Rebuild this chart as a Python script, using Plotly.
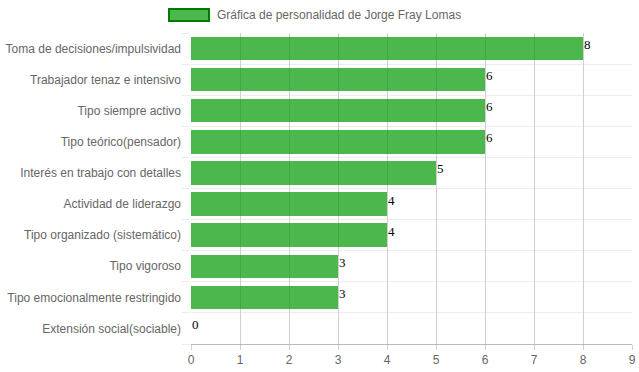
import plotly.graph_objects as go

categories = [
    "Toma de decisiones/impulsividad",
    "Trabajador tenaz e intensivo",
    "Tipo siempre activo",
    "Tipo teórico(pensador)",
    "Interés en trabajo con detalles",
    "Actividad de liderazgo",
    "Tipo organizado (sistemático)",
    "Tipo vigoroso",
    "Tipo emocionalmente restringido",
    "Extensión social(sociable)",
]
values = [8, 6, 6, 6, 5, 4, 4, 3, 3, 0]
series_name = "Gráfica de personalidad de Jorge Fray Lomas"
x_ticks = list(range(0, 10))

positions = list(range(len(categories)))

fig = go.Figure()
fig.add_trace(go.Bar(
    x=values, y=positions, orientation="h",
    marker=dict(color="rgba(0,153,0,0.7)", line=dict(width=0)),
    width=0.75, name=series_name, showlegend=False, hoverinfo="x+y",
))

for v, p in zip(values, positions):
    fig.add_annotation(x=v, y=p, text=str(v), showarrow=False,
                       xanchor="left", yanchor="middle", xshift=-1, yshift=4,
                       font=dict(family="Liberation Serif, Times New Roman, serif", size=13, color="#000"))

# custom legend
fig.add_shape(type="rect", xref="paper", yref="paper",
              x0=(169 - 191) / 441, x1=(209 - 191) / 441,
              y0=(344 - 21) / 311, y1=(344 - 9) / 311,
              fillcolor="rgba(0,153,0,0.7)", line=dict(color="#007a00", width=2))
fig.add_annotation(xref="paper", yref="paper", x=(215 - 191) / 441, y=(344 - 14.5) / 311,
                   text=series_name, showarrow=False, xanchor="left", yanchor="middle",
                   font=dict(family="Liberation Sans", size=12, color="#666"))

fig.update_layout(
    width=639, height=372,
    margin=dict(l=191, r=7, t=33, b=28, autoexpand=False),
    plot_bgcolor="white", paper_bgcolor="white",
    font=dict(family="Liberation Sans", size=12, color="#666"),
    bargap=0,
    xaxis=dict(range=[0, 9], tickvals=x_ticks, showgrid=True, gridcolor="#cfcfcf", gridwidth=1,
               zeroline=False, showline=True, linecolor="#bbb", linewidth=1,
               ticks="outside", ticklen=5, tickcolor="#cfcfcf", automargin=False,
               tickfont=dict(size=12, color="#666"), fixedrange=True),
    yaxis=dict(range=[9.5, -0.5], tickvals=positions, ticktext=categories,
               showgrid=False, zeroline=False, showline=False, automargin=False,
               ticks="", ticklabelstandoff=9,
               minor=dict(tick0=0.5, dtick=1, showgrid=True, gridcolor="#ececec",
                          ticks="outside", ticklen=8, tickcolor="#ececec"),
               tickfont=dict(size=12, color="#666"), fixedrange=True),
)

fig.write_html("out.html", config={"displayModeBar": False},
               post_script="document.body.style.margin='0';document.body.style.overflow='hidden';")
